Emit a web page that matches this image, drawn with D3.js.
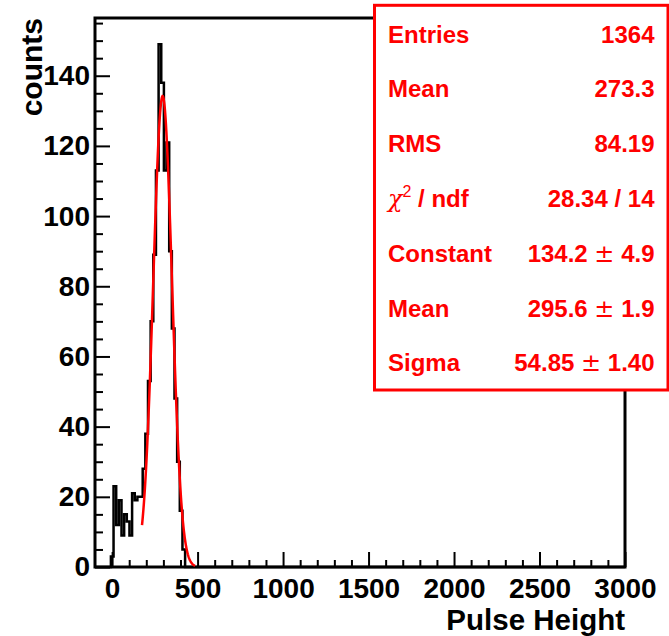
<!DOCTYPE html>
<html>
<head>
<meta charset="utf-8">
<script src="https://cdn.jsdelivr.net/npm/d3@7"></script>
<style>
  html, body { margin: 0; padding: 0; background: #fff; }
  svg { display: block; font-family: "Liberation Sans", Arial, Helvetica, sans-serif; }
</style>
</head>
<body>
<svg id="chart" width="669" height="636"></svg>
<script>
// Histogram binning: equal-width bins over the pulse-height range
const histLow = -100;
const histHigh = 3000;
const nBins = 200;
// Bin contents of the filled bins, starting with the bin that contains 0
const firstFilledBin = 6;
const counts = [3, 23, 12, 19, 9, 15, 13, 9, 21, 19, 20,
                20, 28, 38, 53, 70, 89, 113, 149,
                138, 113, 121, 90, 68, 48, 30, 16, 5];

// Gaussian fit result and the range it was fitted over
const fitConstant = 134.2;
const fitMean = 295.6;
const fitSigma = 54.85;
const fitRange = [175, 485];

// Axis ticks
const xMajorTicks = [0, 500, 1000, 1500, 2000, 2500, 3000];
const xMinorTicks = [100, 200, 300, 400, 600, 700, 800, 900, 1100, 1200, 1300, 1400,
                     1600, 1700, 1800, 1900, 2100, 2200, 2300, 2400, 2600, 2700, 2800, 2900];
const yMajorTicks = [0, 20, 40, 60, 80, 100, 120, 140];
const yMinorTicks = [5, 10, 15, 25, 30, 35, 45, 50, 55, 65, 70, 75, 85, 90, 95,
                     105, 110, 115, 125, 130, 135, 145, 150, 155];
const yMax = 156.45;

// Statistics box
const statLabels = ["Entries", "Mean", "RMS", "chi2", "Constant", "Mean", "Sigma"];
const statValues = ["1364", "273.3", "84.19", "28.34 / 14", ["134.2", "4.9"], ["295.6", "1.9"], ["54.85", "1.40"]];

const svg = d3.select("#chart");
const frame = { left: 95, right: 625, top: 18, bottom: 567 };

const x = d3.scaleLinear().domain([histLow, histHigh]).range([frame.left, frame.right]);
const y = d3.scaleLinear().domain([0, yMax]).range([frame.bottom, frame.top]);

// Frame
svg.append("rect")
  .attr("x", frame.left).attr("y", frame.top)
  .attr("width", frame.right - frame.left).attr("height", frame.bottom - frame.top)
  .attr("fill", "none").attr("stroke", "#000").attr("stroke-width", 3);

// Histogram outline
const binWidth = (histHigh - histLow) / nBins;
const allCounts = new Array(nBins).fill(0);
counts.forEach((c, i) => { allCounts[firstFilledBin + i] = c; });
const pts = [[histLow, 0]];
allCounts.forEach((c, i) => {
  const e0 = histLow + i * binWidth, e1 = e0 + binWidth;
  pts.push([e0, c], [e1, c]);
});
pts.push([histHigh, 0]);
svg.append("path")
  .attr("d", d3.line().x(d => x(d[0])).y(d => y(d[1]))(pts))
  .attr("fill", "none").attr("stroke", "#000").attr("stroke-width", 2.5)
  .attr("stroke-linejoin", "miter");

// Gaussian fit curve
const gauss = v => fitConstant * Math.exp(-0.5 * Math.pow((v - fitMean) / fitSigma, 2));
const fitPts = d3.range(fitRange[0], fitRange[1] + 0.01, 2).map(v => [v, gauss(v)]);
svg.append("path")
  .attr("d", d3.line().x(d => x(d[0])).y(d => y(d[1]))(fitPts))
  .attr("fill", "none").attr("stroke", "#ff0000").attr("stroke-width", 2.5);

// Axes with inward ticks
function styleAxis(g) {
  g.select(".domain").remove();
  g.selectAll("line").attr("stroke", "#000").attr("stroke-width", 2);
  g.selectAll("text")
    .attr("font-family", "'Liberation Sans', Arial, Helvetica, sans-serif")
    .attr("font-size", "28px").attr("font-weight", "bold").attr("fill", "#000");
  g.attr("font-family", null).attr("font-size", null);
}
svg.append("g").attr("transform", `translate(0,${frame.bottom})`)
  .call(d3.axisBottom(x).tickValues(xMinorTicks).tickSize(-7).tickFormat(""))
  .call(styleAxis);
svg.append("g").attr("transform", `translate(0,${frame.bottom})`)
  .call(d3.axisBottom(x).tickValues(xMajorTicks).tickSize(-15).tickPadding(11).tickFormat(d3.format("d")))
  .call(styleAxis);
svg.append("g").attr("transform", `translate(${frame.left},0)`)
  .call(d3.axisLeft(y).tickValues(yMinorTicks).tickSize(-8).tickFormat(""))
  .call(styleAxis);
svg.append("g").attr("transform", `translate(${frame.left},0)`)
  .call(d3.axisLeft(y).tickValues(yMajorTicks).tickSize(-15).tickPadding(5).tickFormat(d3.format("d")))
  .call(styleAxis);

// Axis titles
svg.append("text")
  .attr("x", frame.right).attr("y", 629.5)
  .attr("text-anchor", "end").attr("font-size", "29.5px").attr("font-weight", "bold")
  .text("Pulse Height");
svg.append("text")
  .attr("transform", `translate(41.5,${frame.top}) rotate(-90)`)
  .attr("text-anchor", "end").attr("font-size", "30px").attr("font-weight", "bold")
  .text("counts");

// Statistics box
const box = { x: 374.5, y: 5.3, w: 293.5, h: 384.7 };
svg.append("rect")
  .attr("x", box.x).attr("y", box.y).attr("width", box.w).attr("height", box.h)
  .attr("fill", "#fff").attr("stroke", "#ff0000").attr("stroke-width", 3);

const rowY = d3.scaleLinear().domain([0, statLabels.length - 1]).range([42.5, 371.3]);
const labelX = 388, valueX = 654.5;
const red = "#ff0000";
statLabels.forEach((lab, i) => {
  const t = svg.append("text")
    .attr("x", labelX).attr("y", rowY(i))
    .attr("font-size", "24px").attr("font-weight", "bold").attr("fill", red);
  if (lab === "chi2") {
    t.append("tspan").attr("font-family", "'DejaVu Serif', serif").attr("font-weight", "normal")
      .attr("font-style", "italic").text("χ");
    t.append("tspan").attr("font-size", "16px").attr("font-weight", "normal").attr("dy", -10).text("2");
    t.append("tspan").attr("dy", 10).text(" / ndf");
  } else {
    t.text(lab);
  }
  const v = statValues[i];
  const tv = svg.append("text")
    .attr("x", valueX).attr("y", rowY(i)).attr("text-anchor", "end")
    .attr("font-size", "24px").attr("font-weight", "bold").attr("fill", red);
  if (Array.isArray(v)) {
    tv.append("tspan").text(v[0] + " ");
    tv.append("tspan").attr("font-weight", "normal").attr("font-family", "'DejaVu Sans', sans-serif").text("±");
    tv.append("tspan").text(" " + v[1]);
  } else {
    tv.text(v);
  }
});
</script>
</body>
</html>
